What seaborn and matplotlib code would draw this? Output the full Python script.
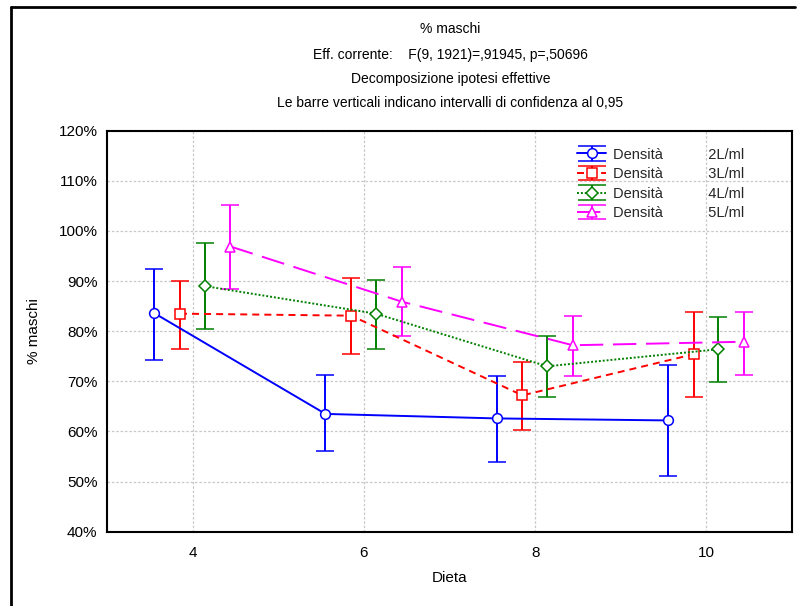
import numpy as np
import pandas as pd
import matplotlib
matplotlib.use("Agg")
import matplotlib.pyplot as plt
import matplotlib.lines as mlines
import seaborn as sns

# ==========================================
# Data
# ==========================================

dieta = [4, 6, 8, 10]
densita = ["2L/ml", "3L/ml", "4L/ml", "5L/ml"]

media_2 = [83.6, 63.5, 62.6, 62.2]
lower_2 = [74.3, 56.2, 53.9, 51.2]
upper_2 = [92.4, 71.3, 71.0, 73.2]

media_3 = [83.5, 83.1, 67.2, 75.4]
lower_3 = [76.5, 75.5, 60.3, 66.9]
upper_3 = [90.1, 90.6, 73.8, 83.9]

media_4 = [89.0, 83.5, 73.0, 76.4]
lower_4 = [80.4, 76.5, 66.9, 69.9]
upper_4 = [97.5, 90.3, 79.1, 82.9]

media_5 = [96.9, 85.9, 77.2, 77.9]
lower_5 = [88.4, 79.1, 71.0, 71.3]
upper_5 = [105.2, 92.9, 83.1, 83.9]

titolo = ["% maschi",
          "Eff. corrente:    F(9, 1921)=,91945, p=,50696",
          "Decomposizione ipotesi effettive",
          "Le barre verticali indicano intervalli di confidenza al 0,95"]

# ==========================================
# Style
# ==========================================

sns.set_theme(style="white")
plt.rcParams["font.family"] = ["Liberation Sans", "DejaVu Sans"]

serie = [
    (media_2, lower_2, upper_2, "#0000ff", "o", "-"),
    (media_3, lower_3, upper_3, "#ff0000", "s", (0, (3.6, 2.6))),
    (media_4, lower_4, upper_4, "#008000", "D", (0, (1.0, 1.0))),
    (media_5, lower_5, upper_5, "#ff00ff", "^", (0, (12, 5))),
]
offset = [-0.45, -0.15, 0.14, 0.44]

fig = plt.figure(figsize=(8, 6.06), dpi=100)
ax = fig.add_axes([0.134, 0.1226, 0.856, 0.6617])

handles = []
for i, (m, lo, hi, col, mk, ls) in enumerate(serie):
    x = np.array(dieta) + offset[i]
    m = np.array(m)
    err = [m - np.array(lo), np.array(hi) - m]
    ms = 6.5 if mk == "D" else 7
    style = dict(color=col, linestyle=ls, linewidth=1.4, marker=mk,
                 markersize=ms, markerfacecolor="white", markeredgecolor=col,
                 markeredgewidth=1.1, capthick=1.4, elinewidth=1.4)
    ax.errorbar(x, m, yerr=err, capsize=6.5, zorder=3, **style)
    # proxy for the legend, with wide caps like the original
    proxy = ax.errorbar([np.nan], [np.nan], yerr=[1], capsize=10.4, **style)
    handles.append(proxy)

ax.set_xlim(3, 11)
ax.set_ylim(40, 120)
ax.set_xticks(dieta)
ax.set_yticks(range(40, 121, 10))
ax.set_yticklabels([f"{v}%" for v in range(40, 121, 10)])
ax.tick_params(direction="in", length=3, width=1, labelsize=11,
               colors="black", pad=7)
ax.tick_params(axis="x", pad=10)
ax.grid(True, color="#c8c8c8", linestyle=(0, (2, 1.5)), linewidth=0.9)
for s in ax.spines.values():
    s.set_color("black")
    s.set_linewidth(1.5)

ax.set_xlabel("Dieta", fontsize=11, color="black")
ax.set_ylabel("% maschi", fontsize=11, color="black")
ax.xaxis.set_label_coords(0.5, -0.098)
ax.yaxis.set_label_coords(-0.097, 0.5)

labels = [f"Densità           {d}" for d in densita]
ax.legend(handles, labels, loc="upper left", bbox_to_anchor=(0.686, 0.958),
          frameon=False, fontsize=10.5, borderaxespad=0, borderpad=0,
          handlelength=2.0, handletextpad=0.5, labelspacing=0.38)

yy = [0.952, 0.909, 0.869, 0.830]
for t, y in zip(titolo, yy):
    fig.text(0.563, y, t, ha="center", va="center", fontsize=10,
             color="black")

# figure frame (left, top, right edges)
fig.add_artist(mlines.Line2D([0.0135, 0.0135], [0.0, 0.988], color="black",
                             linewidth=2, transform=fig.transFigure))
fig.add_artist(mlines.Line2D([0.0135, 0.994], [0.988, 0.988], color="black",
                             linewidth=2, transform=fig.transFigure))

fig.savefig("out.png", dpi=100)
